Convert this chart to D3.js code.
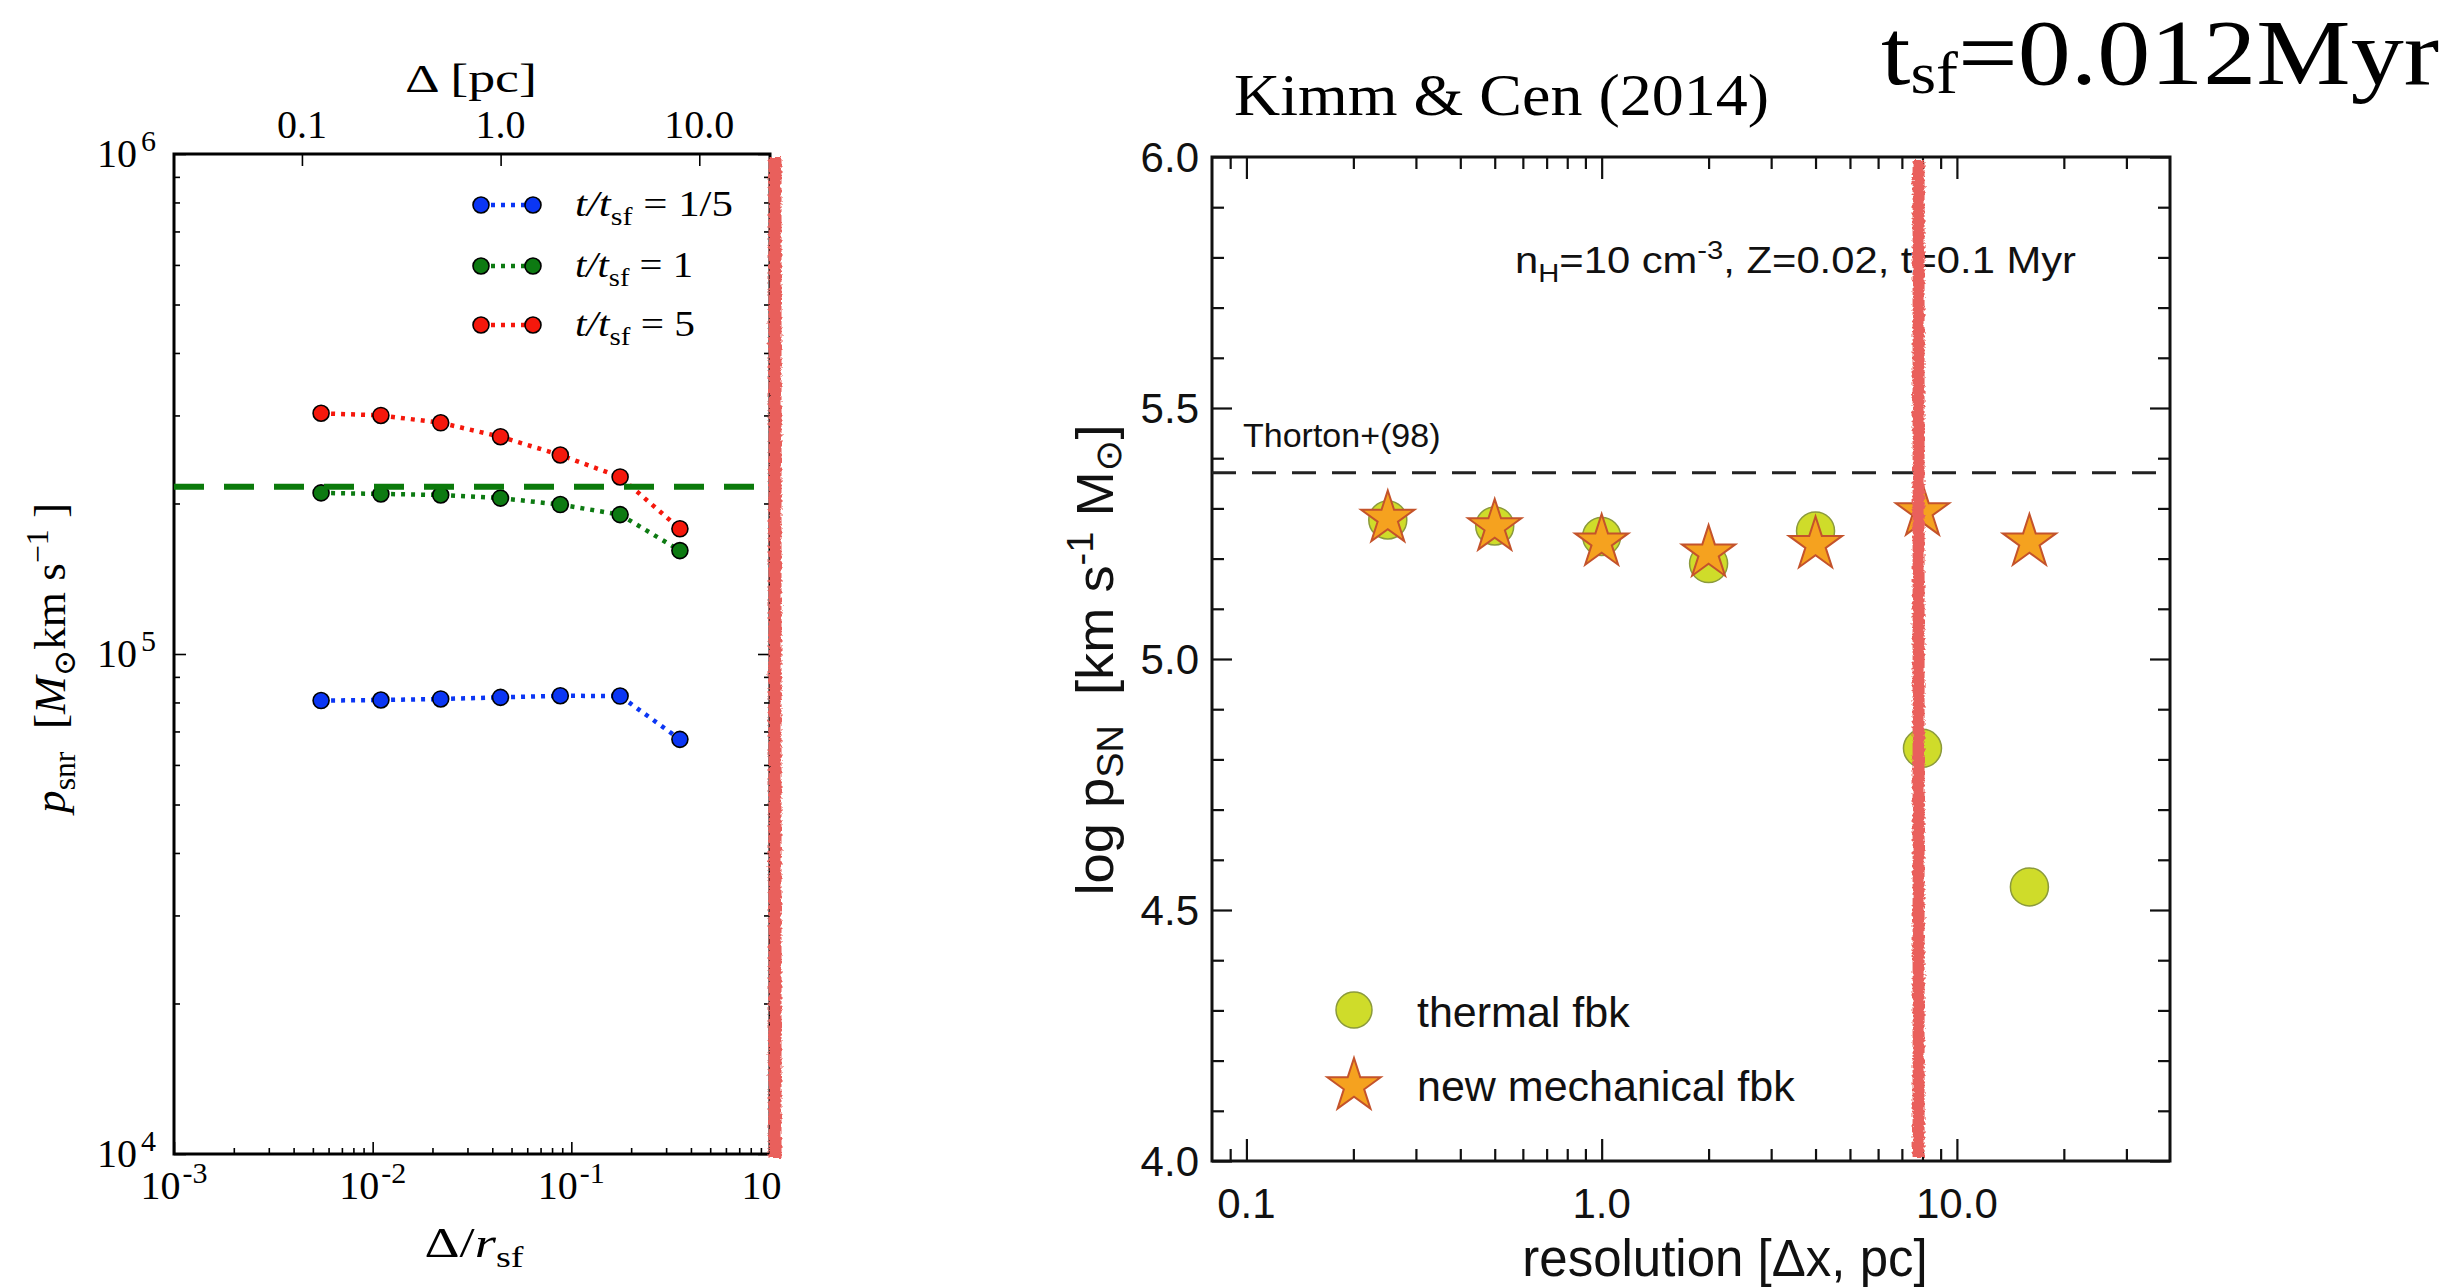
<!DOCTYPE html>
<html><head><meta charset="utf-8">
<script src="https://cdn.jsdelivr.net/npm/d3@7"></script>
<style>body{margin:0;background:#fff}svg{display:block}text{white-space:pre}</style>
</head><body>
<svg id="c" width="2461" height="1288"></svg>
<script>
// ---------------- DATA ----------------
// Left panel (p_snr vs Δ/r_sf)
const leftRatios = [0.0055, 0.011, 0.022, 0.044, 0.088, 0.176, 0.352];   // Δ / r_sf
const rSf = 22.7;                                                         // pc, for the top Δ [pc] axis
const seriesNames = ["t/t_sf=1/5", "t/t_sf=1", "t/t_sf=5"];
const pBlue  = [8.07e4, 8.09e4, 8.13e4, 8.19e4, 8.25e4, 8.24e4, 6.75e4];
const pGreen = [2.10e5, 2.09e5, 2.08e5, 2.05e5, 1.99e5, 1.90e5, 1.61e5];
const pRed   = [3.03e5, 3.00e5, 2.90e5, 2.72e5, 2.50e5, 2.26e5, 1.78e5];
const pRefLine = 2.16e5;
const leftTopTicks = [0.1, 1.0, 10.0];
const leftTopTickLabels = ["0.1", "1.0", "10.0"];
const leftBottomMajor = [1e-3, 1e-2, 1e-1, 1];
const leftBottomExp = ["-3", "-2", "-1", "0"];
const leftYMajor = [1e4, 1e5, 1e6];
const leftYExp = ["4", "5", "6"];
const leftMarkLine = 1.06;      // hand-drawn red line (Δ/r_sf)

// Right panel (Kimm & Cen 2014)
const resolution = [0.25, 0.5, 1, 2, 4, 8, 16];
const thermal    = [5.277, 5.265, 5.244, 5.190, 5.255, 4.822, 4.546];
const mechanical = [5.280, 5.263, 5.233, 5.211, 5.228, 5.293, 5.233];
const thortonLevel = 5.371;
const rightXTicks = [0.1, 1, 10];
const rightXTickLabels = ["0.1", "1.0", "10.0"];
const rightYTicks = [4.0, 4.5, 5.0, 5.5, 6.0];
const rightMarkLine = 7.8;      // hand-drawn red line (pc)

// ---------------- HELPERS ----------------
const svg = d3.select("#c");
const SERIF = "'Liberation Serif','DejaVu Serif',serif";
const SANS = "'Liberation Sans',Arial,'DejaVu Sans',sans-serif";
function rich(sel, parts, size){
  let off = 0;
  parts.forEach(p=>{
    const ts = sel.append("tspan").text(p.t);
    let target = 0, fs = size;
    if(p.sub){ target = p.dy!==undefined ? p.dy : size*0.28; fs = size*(p.scale||0.7); }
    if(p.sup){ target = p.dy!==undefined ? p.dy : -size*0.42; fs = size*(p.scale||0.7); }
    ts.attr("dy", target-off).attr("font-size", fs);
    if(p.dx) ts.attr("dx", p.dx);
    if(p.i) ts.attr("font-style","italic");
    off = target;
  });
  return sel;
}
const isMajorLog = v => Math.abs(Math.log10(v) - Math.round(Math.log10(v))) < 1e-9;
const RED = "#e9605b";

const defs = svg.append("defs");
const rough = defs.append("filter").attr("id","rough").attr("filterUnits","userSpaceOnUse")
  .attr("x",0).attr("y",0).attr("width",2461).attr("height",1288);
rough.append("feTurbulence").attr("type","fractalNoise").attr("baseFrequency","0.35").attr("numOctaves",2).attr("seed",3).attr("result","n");
rough.append("feDisplacementMap").attr("in","SourceGraphic").attr("in2","n").attr("scale",5)
  .attr("xChannelSelector","R").attr("yChannelSelector","G");

// ================= LEFT PANEL =================
const L = {x0:174, x1:770, y0:154, y1:1154};
defs.append("clipPath").attr("id","leftclip").append("rect")
  .attr("x",0).attr("y",0).attr("width",783).attr("height",1288);
const gL = svg.append("g").attr("clip-path","url(#leftclip)");

const xL = d3.scaleLog().domain([1e-3, 1]).range([L.x0, L.x1]);
const xLTop = d3.scaleLog().domain([1e-3*rSf, rSf]).range([L.x0, L.x1]);
const yL = d3.scaleLog().domain([1e4, 1e6]).range([L.y1, L.y0]);

function tickStyle(g){ g.select(".domain").remove(); g.selectAll(".tick line").attr("stroke","#000").attr("stroke-width",1.6); }

const lxT = xL.ticks();
gL.append("g").attr("transform",`translate(0,${L.y1})`)
  .call(d3.axisBottom(xL).tickValues(lxT.filter(v=>!isMajorLog(v))).tickSize(-6).tickFormat(""))
  .call(tickStyle);
gL.append("g").attr("transform",`translate(0,${L.y1})`)
  .call(d3.axisBottom(xL).tickValues(leftBottomMajor).tickSize(-12).tickFormat(""))
  .call(tickStyle);
gL.append("g").attr("transform",`translate(0,${L.y0})`)
  .call(d3.axisTop(xLTop).tickValues(leftTopTicks).tickSize(-12).tickFormat(""))
  .call(tickStyle);
const lyT = yL.ticks();
[[L.x0, d3.axisLeft], [L.x1, d3.axisRight]].forEach(([xx, ax])=>{
  gL.append("g").attr("transform",`translate(${xx},0)`)
    .call(ax(yL).tickValues(lyT.filter(v=>!isMajorLog(v))).tickSize(-6).tickFormat("")).call(tickStyle);
  gL.append("g").attr("transform",`translate(${xx},0)`)
    .call(ax(yL).tickValues(leftYMajor).tickSize(-12).tickFormat("")).call(tickStyle);
});
gL.append("rect").attr("x",L.x0).attr("y",L.y0).attr("width",L.x1-L.x0).attr("height",L.y1-L.y0)
  .attr("fill","none").attr("stroke","#000").attr("stroke-width",3);

// tick labels
gL.selectAll(".toplab").data(leftTopTicks).join("text")
  .attr("x",d=>xLTop(d)).attr("y",138).attr("text-anchor","middle")
  .attr("font-family",SERIF).attr("font-size",40).text((d,i)=>leftTopTickLabels[i]);
leftBottomMajor.forEach((v,i)=>{
  const t = gL.append("text").attr("x",xL(v)).attr("y",1199).attr("text-anchor","middle")
    .attr("font-family",SERIF);
  rich(t,[{t:"10"},{t:leftBottomExp[i],sup:true,dy:-16,scale:0.75,dx:2}],40);
});
leftYMajor.forEach((v,i)=>{
  const t = gL.append("text").attr("x",156).attr("y",yL(v)+13).attr("text-anchor","end")
    .attr("font-family",SERIF);
  rich(t,[{t:"10"},{t:leftYExp[i],sup:true,dy:-16,scale:0.75,dx:4}],40);
});
// axis labels
gL.append("text").attr("x",471).attr("y",92).attr("text-anchor","middle").attr("font-family",SERIF)
  .attr("font-size",41).attr("textLength",132).attr("lengthAdjust","spacingAndGlyphs").text("Δ [pc]");
rich(gL.append("text").attr("x",474).attr("y",1257).attr("text-anchor","middle").attr("font-family",SERIF)
  .attr("textLength",99).attr("lengthAdjust","spacingAndGlyphs"),
  [{t:"Δ/"},{t:"r",i:true},{t:"sf",sub:true,dy:10}],43);
rich(gL.append("text").attr("transform","translate(65,658) rotate(-90)").attr("text-anchor","middle")
  .attr("font-family",SERIF).attr("textLength",310).attr("lengthAdjust","spacingAndGlyphs"),
  [{t:"p",i:true},{t:"snr",sub:true,dy:10},{t:"  ["},{t:"M",i:true},{t:"⊙",sub:true,dy:10},{t:"km s"},{t:"−1",sup:true,dy:-17},{t:" ]"}],44);

// series
const leftSeries = [
  {name:seriesNames[0], vals:pBlue,  color:"#0b36f4"},
  {name:seriesNames[1], vals:pGreen, color:"#0d7a12"},
  {name:seriesNames[2], vals:pRed,   color:"#f5180c"}
];
const lineL = d3.line().x(d=>xL(d[0])).y(d=>yL(d[1]));
leftSeries.forEach(s=>{
  const pts = leftRatios.map((r,i)=>[r, s.vals[i]]);
  gL.append("path").attr("d",lineL(pts)).attr("fill","none").attr("stroke",s.color)
    .attr("stroke-width",4.5).attr("stroke-dasharray","4,6");
  gL.selectAll(null).data(pts).join("circle").attr("cx",d=>xL(d[0])).attr("cy",d=>yL(d[1]))
    .attr("r",8).attr("fill",s.color).attr("stroke","#000").attr("stroke-width",1.6);
});
gL.append("line").attr("x1",L.x0).attr("x2",L.x1).attr("y1",yL(pRefLine)).attr("y2",yL(pRefLine))
  .attr("stroke","#0b7a0b").attr("stroke-width",6).attr("stroke-dasharray","30,20");

// legend
const legRows = [205, 266, 325];
const legLens = [158, 118, 120];
const legValues = ["1/5","1","5"];
leftSeries.forEach((s,i)=>{
  const y = legRows[i];
  gL.append("line").attr("x1",481).attr("x2",533).attr("y1",y).attr("y2",y)
    .attr("stroke",s.color).attr("stroke-width",4.5).attr("stroke-dasharray","4,6");
  [481,533].forEach(cx=>gL.append("circle").attr("cx",cx).attr("cy",y).attr("r",8)
    .attr("fill",s.color).attr("stroke","#000").attr("stroke-width",1.6));
  rich(gL.append("text").attr("x",575).attr("y",y+11).attr("font-family",SERIF)
    .attr("textLength",legLens[i]).attr("lengthAdjust","spacingAndGlyphs"),
    [{t:"t/t",i:true},{t:"sf",sub:true,dy:9},{t:" = "+legValues[i]}],35);
});

// red hand-drawn line (left)
const redW = 13;
svg.append("rect").attr("x",xL(leftMarkLine)-redW/2).attr("width",redW)
  .attr("y",yL.range()[1]+3).attr("height",yL.range()[0]-yL.range()[1]+1)
  .attr("fill",RED).attr("filter","url(#rough)");

// ================= RIGHT PANEL =================
const R = {x0:1212, x1:2170, y0:157, y1:1161};
const gR = svg.append("g");
const xR = d3.scaleLog().domain([0.08, 39.8]).range([R.x0, R.x1]);
const yR = d3.scaleLinear().domain([4, 6]).range([R.y1, R.y0]);

const rxT = xR.ticks().filter(v=>v>0.0801 && v<39.7);
[[R.y1, d3.axisBottom],[R.y0, d3.axisTop]].forEach(([yy, ax])=>{
  gR.append("g").attr("transform",`translate(0,${yy})`)
    .call(ax(xR).tickValues(rxT.filter(v=>!isMajorLog(v))).tickSize(-12).tickFormat("")).call(tickStyle);
  gR.append("g").attr("transform",`translate(0,${yy})`)
    .call(ax(xR).tickValues(rightXTicks).tickSize(-22).tickFormat("")).call(tickStyle);
});
const ryMinor = d3.range(41).map(i=>4+i*0.05).filter(v=>Math.abs(v*10-Math.round(v*10))<1e-6 && Math.abs(v*2-Math.round(v*2))>1e-6);
[[R.x0, d3.axisLeft],[R.x1, d3.axisRight]].forEach(([xx, ax])=>{
  gR.append("g").attr("transform",`translate(${xx},0)`)
    .call(ax(yR).tickValues(ryMinor).tickSize(-12).tickFormat("")).call(tickStyle);
  gR.append("g").attr("transform",`translate(${xx},0)`)
    .call(ax(yR).tickValues(rightYTicks).tickSize(-20).tickFormat("")).call(tickStyle);
});
gR.selectAll(".tick line").attr("stroke-width",2.2).attr("stroke","#111");
gR.append("rect").attr("x",R.x0).attr("y",R.y0).attr("width",R.x1-R.x0).attr("height",R.y1-R.y0)
  .attr("fill","none").attr("stroke","#111").attr("stroke-width",3);

// tick labels
gR.selectAll(".ylab").data(rightYTicks).join("text")
  .attr("x",1199).attr("y",d=>yR(d)+15).attr("text-anchor","end")
  .attr("font-family",SANS).attr("font-size",42).attr("fill","#111").text(d3.format(".1f"));
gR.selectAll(".xlab").data(rightXTicks).join("text")
  .attr("x",d=>xR(d)).attr("y",1218).attr("text-anchor","middle")
  .attr("font-family",SANS).attr("font-size",42).attr("fill","#111").text((d,i)=>rightXTickLabels[i]);

// axis labels
gR.append("text").attr("x",1725).attr("y",1276).attr("text-anchor","middle")
  .attr("font-family",SANS).attr("font-size",51).attr("fill","#111").text("resolution [Δx, pc]");
rich(gR.append("text").attr("transform","translate(1113,660) rotate(-90)").attr("text-anchor","middle")
  .attr("font-family",SANS).attr("fill","#111").attr("textLength",471).attr("lengthAdjust","spacingAndGlyphs"),
  [{t:"log p"},{t:"SN",sub:true,dy:10},{t:"  [km s"},{t:"-1",sup:true,dy:-20},{t:" M"},{t:"⊙",sub:true,dy:8},{t:"]"}],52);

// titles
gR.append("text").attr("x",1234).attr("y",115).attr("font-family",SERIF).attr("font-size",60)
  .attr("textLength",535).attr("lengthAdjust","spacingAndGlyphs").text("Kimm & Cen (2014)");
rich(gR.append("text").attr("x",1881).attr("y",84).attr("font-family",SERIF)
  .attr("textLength",558).attr("lengthAdjust","spacingAndGlyphs"),
  [{t:"t"},{t:"sf",sub:true,dy:9,scale:0.62},{t:"=0.012Myr"}],94);

// annotations
rich(gR.append("text").attr("x",1515).attr("y",273).attr("font-family",SANS).attr("fill","#111")
  .attr("textLength",561).attr("lengthAdjust","spacingAndGlyphs"),
  [{t:"n"},{t:"H",sub:true,dy:9},{t:"=10 cm"},{t:"-3",sup:true,dy:-14},{t:", Z=0.02, t=0.1 Myr"}],37);
gR.append("text").attr("x",1243).attr("y",447).attr("font-family",SANS).attr("font-size",34)
  .attr("fill","#111").text("Thorton+(98)");
gR.append("line").attr("x1",R.x0).attr("x2",R.x1).attr("y1",yR(thortonLevel)).attr("y2",yR(thortonLevel))
  .attr("stroke","#222").attr("stroke-width",3).attr("stroke-dasharray","24,16");

// data markers
const CFILL = "#cfdc2a", CEDGE = "#8b9a3c", SFILL = "#f5a21f", SEDGE = "#c4532b";
const starSize = 880;
const starPath = d3.symbol(d3.symbolStar, starSize)();
gR.selectAll(".th").data(resolution.map((r,i)=>[r, thermal[i]])).join("circle")
  .attr("cx",d=>xR(d[0])).attr("cy",d=>yR(d[1])).attr("r",19)
  .attr("fill",CFILL).attr("stroke",CEDGE).attr("stroke-width",1.5);
gR.selectAll(".me").data(resolution.map((r,i)=>[r, mechanical[i]])).join("path")
  .attr("d",starPath).attr("transform",d=>`translate(${xR(d[0])},${yR(d[1])})`)
  .attr("fill",SFILL).attr("stroke",SEDGE).attr("stroke-width",2);

// legend
gR.append("circle").attr("cx",1354).attr("cy",1010).attr("r",18)
  .attr("fill",CFILL).attr("stroke",CEDGE).attr("stroke-width",1.5);
gR.append("text").attr("x",1417).attr("y",1027).attr("font-family",SANS).attr("font-size",43)
  .attr("fill","#111").text("thermal fbk");
gR.append("path").attr("d",starPath).attr("transform","translate(1354,1086)")
  .attr("fill",SFILL).attr("stroke",SEDGE).attr("stroke-width",2);
gR.append("text").attr("x",1417).attr("y",1101).attr("font-family",SANS).attr("font-size",43)
  .attr("fill","#111").text("new mechanical fbk");

// red hand-drawn line (right)
const redW2 = 12;
svg.append("rect").attr("x",xR(rightMarkLine)-redW2/2).attr("width",redW2)
  .attr("y",yR.range()[1]+3).attr("height",yR.range()[0]-yR.range()[1]-7)
  .attr("fill",RED).attr("filter","url(#rough)");
</script>
</body></html>
